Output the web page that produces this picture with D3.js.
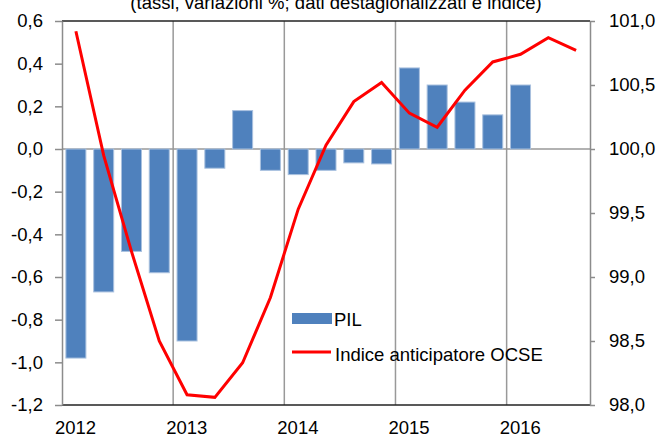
<!DOCTYPE html>
<html>
<head>
<meta charset="utf-8">
<script src="https://cdn.jsdelivr.net/npm/d3@7"></script>
<style>
  body { margin: 0; background: #fff; }
  svg { display: block; font-family: "Liberation Sans", Arial, sans-serif; }
  .axis path, .axis line { stroke: #8c8c8c; }
  .axis text { font-size: 18.5px; fill: #000; }
</style>
</head>
<body>
<div id="chart"></div>
<script>
// quarters 2012Q1 .. 2016Q3
var quarters = ["2012T1","2012T2","2012T3","2012T4","2013T1","2013T2","2013T3","2013T4",
  "2014T1","2014T2","2014T3","2014T4","2015T1","2015T2","2015T3","2015T4",
  "2016T1","2016T2","2016T3"];
// PIL, var. % congiunturale (left axis)
var pil = [-0.98, -0.67, -0.48, -0.58, -0.90, -0.09, 0.18, -0.10,
  -0.12, -0.10, -0.065, -0.07, 0.38, 0.30, 0.22, 0.16, 0.30];
// Indice anticipatore OCSE (right axis)
var ocse = [100.92, 99.95, 99.20, 98.50, 98.08, 98.06, 98.33, 98.84,
  99.53, 100.03, 100.37, 100.52, 100.28, 100.17, 100.46, 100.68,
  100.74, 100.87, 100.77];
var years = ["2012", "2013", "2014", "2015", "2016"];
var leftTicks = [0.6, 0.4, 0.2, 0, -0.2, -0.4, -0.6, -0.8, -1.0, -1.2];
var rightTicks = [101, 100.5, 100, 99.5, 99, 98.5, 98];

var width = 656, height = 437;
var plot = { left: 62, right: 590, top: 21, bottom: 405 };

var svg = d3.select("#chart").append("svg")
  .attr("width", width)
  .attr("height", height);

var fmt = function (d) { return d.toFixed(1).replace(".", ","); };

var x = d3.scaleBand().domain(quarters).range([plot.left, plot.right]).padding(0);
var yL = d3.scaleLinear().domain([-1.2, 0.6]).range([plot.bottom, plot.top]);
var yR = d3.scaleLinear().domain([98, 101]).range([plot.bottom, plot.top]);

// title (cut off at top, as in the source)
svg.append("text")
  .attr("x", 336)
  .attr("y", 9)
  .attr("text-anchor", "middle")
  .style("font-size", "18.5px")
  .text("(tassi, variazioni %; dati destagionalizzati e indice)");

// vertical year gridlines
svg.selectAll(".vgrid")
  .data(years.slice(1))
  .enter()
  .append("line")
  .attr("x1", function (d) { return x(d + "T1"); })
  .attr("x2", function (d) { return x(d + "T1"); })
  .attr("y1", plot.top)
  .attr("y2", plot.bottom)
  .attr("stroke", "#999")
  .attr("stroke-width", 1.5);

// zero line
svg.append("line")
  .attr("x1", plot.left).attr("x2", plot.right)
  .attr("y1", yL(0)).attr("y2", yL(0))
  .attr("stroke", "#999")
  .attr("stroke-width", 1.5);

// bars
var bw = x.bandwidth() * 0.72;
svg.selectAll(".bar")
  .data(pil)
  .enter()
  .append("rect")
  .attr("x", function (d, i) { return x(quarters[i]) + (x.bandwidth() - bw) / 2; })
  .attr("y", function (d) { return yL(Math.max(0, d)); })
  .attr("width", bw)
  .attr("height", function (d) { return Math.abs(yL(d) - yL(0)); })
  .attr("fill", "#4f81bd")
  .attr("stroke", "#a9c1df")
  .attr("stroke-width", 1);

// line
var line = d3.line()
  .x(function (d, i) { return x(quarters[i]) + x.bandwidth() / 2; })
  .y(function (d) { return yR(d); });
svg.append("path")
  .datum(ocse)
  .attr("d", line)
  .attr("fill", "none")
  .attr("stroke", "#ff0000")
  .attr("stroke-width", 3);

// frame top / bottom
svg.append("line")
  .attr("x1", plot.left).attr("x2", plot.right)
  .attr("y1", plot.top).attr("y2", plot.top)
  .attr("stroke", "#222").attr("stroke-width", 1.5);
svg.append("line")
  .attr("x1", plot.left).attr("x2", plot.right)
  .attr("y1", plot.bottom).attr("y2", plot.bottom)
  .attr("stroke", "#222").attr("stroke-width", 1.5);

// left axis
var gL = svg.append("g")
  .attr("class", "axis")
  .attr("transform", "translate(" + plot.left + ",0)")
  .call(d3.axisLeft(yL).tickValues(leftTicks).tickSize(7).tickSizeOuter(0).tickPadding(12).tickFormat(fmt));
gL.selectAll("path, line").attr("stroke-width", 1.5);

// right axis
var gR = svg.append("g")
  .attr("class", "axis")
  .attr("transform", "translate(" + plot.right + ",0)")
  .call(d3.axisRight(yR).tickValues(rightTicks).tickSize(5).tickSizeOuter(0).tickPadding(14).tickFormat(fmt));
gR.selectAll("path, line").attr("stroke-width", 1.5);

// year labels
svg.selectAll(".year")
  .data(years)
  .enter()
  .append("text")
  .attr("x", function (d) { return x(d + "T1") - 7; })
  .attr("y", 434)
  .style("font-size", "18.5px")
  .text(function (d) { return d; });

// legend
var lg = svg.append("g");
lg.append("rect")
  .attr("x", 292).attr("y", 313)
  .attr("width", 40).attr("height", 11)
  .attr("fill", "#4f81bd");
lg.append("text")
  .attr("x", 334).attr("y", 326)
  .style("font-size", "18.5px")
  .text("PIL");
lg.append("line")
  .attr("x1", 292).attr("x2", 331)
  .attr("y1", 352).attr("y2", 352)
  .attr("stroke", "#ff0000").attr("stroke-width", 3);
lg.append("text")
  .attr("x", 335).attr("y", 361)
  .style("font-size", "18.5px")
  .text("Indice anticipatore OCSE");
</script>
</body>
</html>
